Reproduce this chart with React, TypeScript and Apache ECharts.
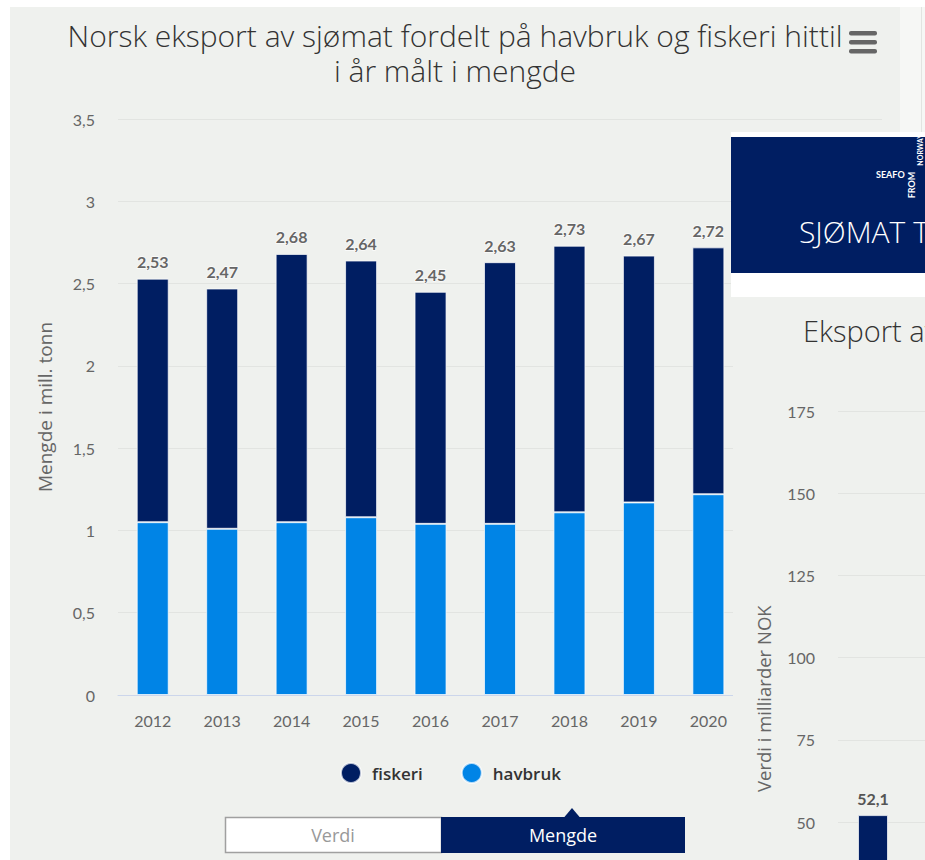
import React, { useEffect, useRef } from 'react';
import * as echarts from 'echarts';

const YEARS = ['2012', '2013', '2014', '2015', '2016', '2017', '2018', '2019', '2020'];
const HAVBRUK = [1.05, 1.01, 1.05, 1.08, 1.04, 1.04, 1.11, 1.17, 1.22];
const FISKERI = [1.48, 1.46, 1.63, 1.56, 1.41, 1.59, 1.62, 1.5, 1.5];

const RIGHT_CATEGORIES = ['2012', '2013'];
const RIGHT_VALUES: (number | null)[] = [52.1, null];
const RIGHT_VISIBLE_MIN = 50;

const TITLE = 'Norsk eksport av sjømat fordelt på havbruk og fiskeri hittil\ni år målt i mengde';
const Y_NAME = 'Mengde i mill. tonn';
const RIGHT_Y_NAME = 'Verdi i milliarder NOK';

const NAVY = '#001e62';
const BLUE = '#0084e6';
const BG = '#eff1ee';
const FONT = 'Lato, "Open Sans", sans-serif';
const WIDE = '"Open Sans", Lato, sans-serif';

const comma = (v: number, d?: number) => (d === undefined ? String(v) : v.toFixed(d)).replace('.', ',');

export default function App() {
  const ref = useRef<HTMLDivElement>(null);
  useEffect(() => {
    if (!ref.current) return;
    const chart = echarts.init(ref.current, undefined, { renderer: 'svg' });
    const option: any = {
      animation: false,
      backgroundColor: BG,
      textStyle: { fontFamily: FONT },
      title: {
        text: TITLE,
        left: 450,
        top: 13,
        textAlign: 'center',
        textStyle: { fontSize: 30, fontWeight: 300, color: '#333', lineHeight: 35, fontFamily: WIDE },
      },
      legend: {
        data: ['fiskeri', 'havbruk'],
        left: 335,
        top: 757,
        icon: 'circle',
        itemWidth: 20,
        itemHeight: 20,
        itemGap: 38,
        textStyle: { fontSize: 17, fontWeight: 600, color: '#333', padding: [0, 0, 0, 6], fontFamily: WIDE },
      },
      grid: [
        { left: 118, top: 119, width: 764, height: 576, outerBoundsMode: 'none' },
        { left: 838, top: 411, width: 140, height: 575.4, outerBoundsMode: 'none' },
      ],
      xAxis: [
        {
          type: 'category',
          gridIndex: 0,
          data: YEARS,
          max: 10,
          axisLine: { lineStyle: { color: '#ccd6eb' } },
          axisTick: { show: false },
          axisLabel: { color: '#666', fontSize: 16, margin: 17, fontFamily: FONT },
        },
        {
          type: 'category',
          gridIndex: 1,
          data: RIGHT_CATEGORIES,
          z: 20,
          axisLine: { show: false },
          axisTick: { show: false },
          axisLabel: { show: false },
        },
      ],
      yAxis: [
        {
          type: 'value',
          gridIndex: 0,
          min: 0,
          max: 3.5,
          interval: 0.5,
          name: Y_NAME,
          nameLocation: 'middle',
          nameGap: 64,
          nameTextStyle: { color: '#666', fontSize: 19, fontFamily: WIDE },
          axisLine: { show: false },
          axisTick: { show: false },
          axisLabel: { color: '#666', fontSize: 16, margin: 23, formatter: (v: number) => comma(v), fontFamily: FONT },
          splitLine: { lineStyle: { color: '#e2e4e1' } },
        },
        {
          type: 'value',
          gridIndex: 1,
          min: 0,
          max: 175,
          interval: 25,
          z: 20,
          name: RIGHT_Y_NAME,
          nameLocation: 'middle',
          nameGap: 65,
          nameTextStyle: { color: '#666', fontSize: 18.5, fontFamily: WIDE },
          axisLine: { show: false },
          axisTick: { show: false },
          axisLabel: {
            color: '#666',
            fontSize: 16,
            margin: 23,
            fontFamily: FONT,
            formatter: (v: number) => (v >= RIGHT_VISIBLE_MIN ? String(v) : ''),
          },
          splitLine: { lineStyle: { color: '#e2e4e1' } },
        },
      ],
      series: [
        {
          name: 'havbruk',
          type: 'bar',
          stack: 'total',
          xAxisIndex: 0,
          yAxisIndex: 0,
          data: HAVBRUK,
          barWidth: 32,
          itemStyle: { color: BLUE, borderColor: 'rgba(255,255,255,0.7)', borderWidth: 1 },
        },
        {
          name: 'fiskeri',
          type: 'bar',
          stack: 'total',
          xAxisIndex: 0,
          yAxisIndex: 0,
          data: FISKERI,
          barWidth: 32,
          itemStyle: { color: NAVY, borderColor: 'rgba(255,255,255,0.7)', borderWidth: 1 },
          label: {
            show: true,
            position: 'top',
            distance: 9,
            color: '#666',
            fontSize: 16,
            fontWeight: 'bold',
            fontFamily: FONT,
            textBorderColor: 'rgba(255,255,255,0.8)',
            textBorderWidth: 1.5,
            formatter: (p: any) => comma(HAVBRUK[p.dataIndex] + FISKERI[p.dataIndex], 2),
          },
        },
        {
          name: 'Eksport',
          type: 'bar',
          xAxisIndex: 1,
          yAxisIndex: 1,
          data: RIGHT_VALUES,
          barWidth: 30,
          z: 20,
          itemStyle: { color: NAVY, borderColor: 'rgba(255,255,255,0.7)', borderWidth: 1 },
          label: {
            show: true,
            position: 'top',
            distance: 9,
            color: '#555',
            fontSize: 16,
            fontWeight: 'bold',
            fontFamily: FONT,
            formatter: (p: any) => comma(p.value, 1),
          },
        },
      ],
      graphic: [
        { type: 'rect', z: 1, shape: { x: 0, y: 0, width: 10, height: 860 }, style: { fill: '#fff' } },
        { type: 'rect', z: 1, shape: { x: 0, y: 0, width: 925, height: 7 }, style: { fill: '#fff' } },
        { type: 'rect', z: 1, shape: { x: 900, y: 7, width: 25, height: 125 }, style: { fill: '#f6f7f5' } },
        { type: 'line', z: 1, shape: { x1: 921.5, y1: 7, x2: 921.5, y2: 132 }, style: { stroke: '#e2e4e1', lineWidth: 1 } },
        { type: 'rect', z: 1, shape: { x: 849, y: 31, width: 28, height: 4.5, r: 2 }, style: { fill: '#666' } },
        { type: 'rect', z: 1, shape: { x: 849, y: 40, width: 28, height: 4.5, r: 2 }, style: { fill: '#666' } },
        { type: 'rect', z: 1, shape: { x: 849, y: 49, width: 28, height: 4.5, r: 2 }, style: { fill: '#666' } },
        { type: 'rect', z: 10, shape: { x: 733, y: 297, width: 192, height: 563 }, style: { fill: BG } },
        { type: 'rect', z: 10, shape: { x: 731, y: 132, width: 194, height: 165 }, style: { fill: '#fff' } },
        { type: 'rect', z: 11, shape: { x: 731, y: 137, width: 194, height: 136 }, style: { fill: NAVY } },
        {
          type: 'text', z: 12, x: 799, y: 231,
          style: { text: 'SJØMAT T', fill: '#fff', fontSize: 30, fontWeight: 300, fontFamily: WIDE, verticalAlign: 'middle' },
        },
        {
          type: 'text', z: 12, x: 876, y: 174,
          style: { text: 'SEAFO', fill: '#fff', fontSize: 9, fontWeight: 'bold', fontFamily: FONT, verticalAlign: 'middle' },
        },
        {
          type: 'text', z: 12, x: 911, y: 185, rotation: Math.PI / 2,
          style: { text: 'FROM', fill: '#fff', fontSize: 9, fontWeight: 'bold', fontFamily: FONT, align: 'center', verticalAlign: 'middle' },
        },
        {
          type: 'text', z: 12, x: 920, y: 150, rotation: Math.PI / 2,
          style: { text: 'NORWAY', fill: '#fff', fontSize: 7, fontWeight: 'bold', fontFamily: FONT, align: 'center', verticalAlign: 'middle' },
        },
        {
          type: 'text', z: 12, x: 803, y: 330,
          style: { text: 'Eksport av', fill: '#333', fontSize: 29, fontWeight: 300, fontFamily: WIDE, verticalAlign: 'middle' },
        },
        { type: 'rect', z: 5, shape: { x: 225.5, y: 817.5, width: 216, height: 35 }, style: { fill: '#fff', stroke: '#a0a0a0', lineWidth: 1.5 } },
        {
          type: 'text', z: 6, x: 333, y: 835,
          style: { text: 'Verdi', fill: '#999', fontSize: 18, fontFamily: WIDE, align: 'center', verticalAlign: 'middle' },
        },
        { type: 'rect', z: 5, shape: { x: 441, y: 817, width: 244, height: 36 }, style: { fill: NAVY } },
        { type: 'polygon', z: 5, shape: { points: [[564, 817.5], [572, 808], [580, 817.5]] }, style: { fill: NAVY } },
        {
          type: 'text', z: 6, x: 563, y: 835,
          style: { text: 'Mengde', fill: '#fff', fontSize: 18, fontFamily: WIDE, align: 'center', verticalAlign: 'middle' },
        },
      ],
    };
    chart.setOption(option);
    return () => chart.dispose();
  }, []);
  return <div ref={ref} style={{ position: 'absolute', left: 0, top: 0, width: 925, height: 860 }} />;
}
